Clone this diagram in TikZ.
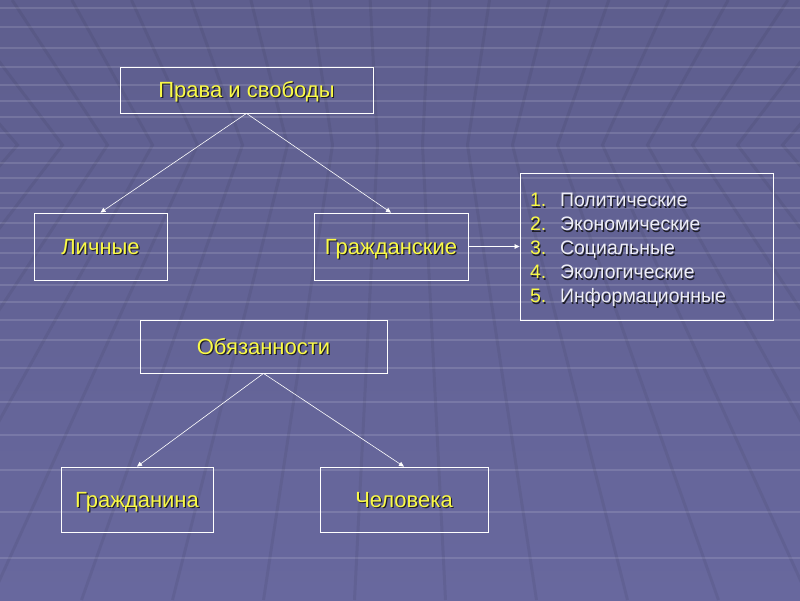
\documentclass[tikz,border=0pt]{standalone}
\usepackage{fontspec}
\setmainfont{Liberation Sans}
\usetikzlibrary{arrows.meta}
\definecolor{bgtop}{RGB}{94,94,142}
\definecolor{bgmid}{RGB}{74,74,114}
\definecolor{bgbot}{RGB}{104,104,158}
\definecolor{yell}{RGB}{250,250,70}
\definecolor{listtext}{RGB}{238,238,246}
\definecolor{shadowcol}{RGB}{30,30,40}
\newcommand\shtext[1]{\makebox[0pt][l]{\hspace{1.2pt}\raisebox{-1.2pt}{\textcolor{shadowcol}{#1}}}#1}

\begin{document}
\begin{tikzpicture}[x=1pt,y=-1pt,
  gridline/.style={white, opacity=0.13, line width=1.6pt},
  seam/.style={black, opacity=0.06, line width=3pt},
  box/.style={draw=white, line width=0.8pt, text=yell, inner sep=0pt,
              text height=15.5pt, text depth=0pt,
              font=\fontsize{22}{24}\selectfont},
  arr/.style={draw=white, line width=0.6pt, -{Triangle[length=5pt,width=4.5pt]}}]
\useasboundingbox (0,0) rectangle (800,600);
\shade[top color=bgtop, middle color=bgmid, bottom color=bgbot] (0,0) rectangle (800,600);
\begin{scope}
\clip (0,0) rectangle (800,600);
\foreach \y in {8,27,48,67,85,101,117,133,148,163,178,193,208,223,238,253,268,285,302,320,340,368,402,435,470,512,558}
  \draw[gridline] (0,\y) -- (800,\y);
\foreach \k in {-9,...,8} {
  \pgfmathsetmacro\xk{422.5+45*\k}
  \draw[seam] ({400+(\xk-400)*1.326},0) -- (\xk,145) -- ({400+(\xk-400)*2.022},600);
}
\end{scope}

\node[box, minimum width=253, minimum height=46] (prava) at (246.5,90) {\shtext{Права и свободы}};
\node[box, minimum width=133, minimum height=67] (lichnye) at (100.5,246.5) {\shtext{Личные}};
\node[box, minimum width=154, minimum height=67] (grazhd) at (391,246.5) {\shtext{Гражданские}};
\node[box, minimum width=253, minimum height=147, text width=233, align=left,
      text height=, text depth=,
      text=listtext, font=\fontsize{19.5}{24}\selectfont] (spisok) at (646.5,246.5)
  {\rule{0pt}{22pt}\makebox[30pt][l]{\textcolor{yell}{\shtext{1.}}}\shtext{Политические}\\
   \makebox[30pt][l]{\textcolor{yell}{\shtext{2.}}}\shtext{Экономические}\\
   \makebox[30pt][l]{\textcolor{yell}{\shtext{3.}}}\shtext{Социальные}\\
   \makebox[30pt][l]{\textcolor{yell}{\shtext{4.}}}\shtext{Экологические}\\
   \makebox[30pt][l]{\textcolor{yell}{\shtext{5.}}}\shtext{Информационные}};
\node[box, minimum width=247, minimum height=53] (obyaz) at (263.5,346.5) {\shtext{Обязанности}};
\node[box, minimum width=152, minimum height=65] (grazhdanina) at (137,499.5) {\shtext{Гражданина}};
\node[box, minimum width=168, minimum height=65] (chelovek) at (404,499.5) {\shtext{Человека}};

\draw[arr] (prava.south) -- (lichnye.north);
\draw[arr] (prava.south) -- (grazhd.north);
\draw[arr] (grazhd.east) -- (spisok.west);
\draw[arr] (obyaz.south) -- (grazhdanina.north);
\draw[arr] (obyaz.south) -- (chelovek.north);
\end{tikzpicture}
\end{document}
